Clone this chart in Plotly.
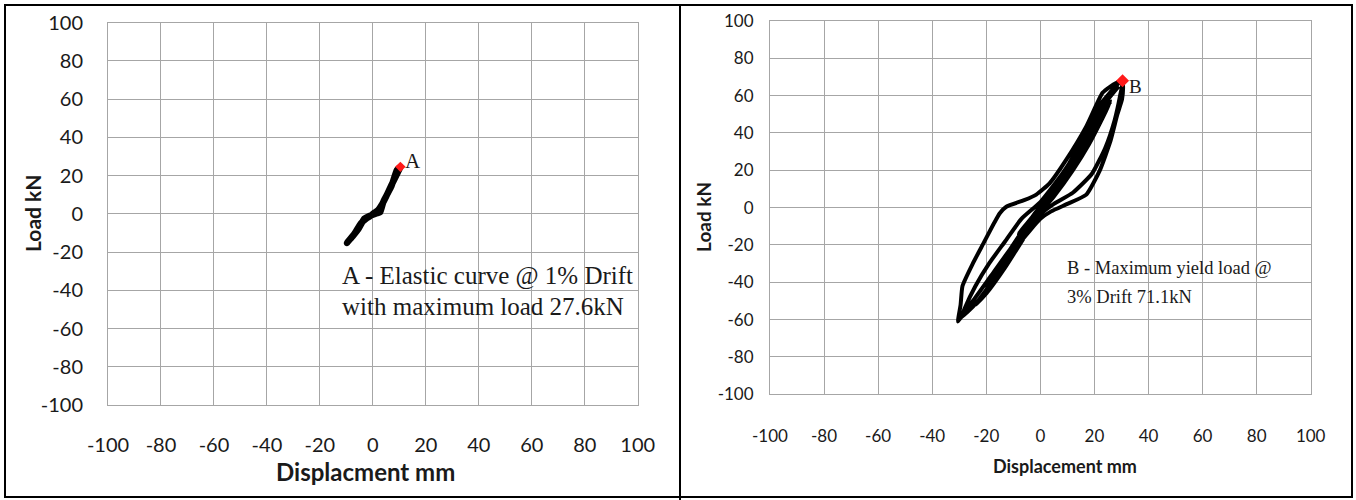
import plotly.graph_objects as go

# ---------------- data ----------------
tick_vals = [-100, -80, -60, -40, -20, 0, 20, 40, 60, 80, 100]
tick_text = ["-100", "-80", "-60", "-40", "-20", "0", "20", "40", "60", "80", "100"]

# Left panel: elastic cycle at 1% drift
disp_a = [-9.8, -7.5, -5.5, -3.2, -1.5, 0.0, 1.5, 2.8, 4.0, 5.5, 7.0, 9.1, 10.4,
          9.0, 7.0, 5.0, 3.5, 2.0, 0.5, -1.0, -2.5, -4.5, -7.0, -9.8]
load_a = [-15.2, -11.5, -8.0, -2.5, -1.2, -0.5, 0.3, 1.0, 6.5, 10.5, 14.5, 22.9, 24.6,
          20.5, 15.0, 9.0, 5.0, 2.0, 0.5, -1.2, -2.5, -5.0, -10.5, -15.2]
point_a = (10.4, 24.6)

# Right panel: cyclic hysteresis loops up to 3% drift
disp_b = [0, 5, 10, 7, 2, -3, -8, -5, 0,
          5, 10, 15, 12, 6, 0, -6, -12, -15, -11, -5, 0,
          6, 12, 20, 16, 10, 4, -2, -8, -15, -20, -16, -9, -3, 2,
          8, 15, 22, 26, 23, 18, 12, 5, -2, -10, -18, -24, -20, -13, -6, 0,
          5, 10, 16, 22, 26, 28.5, 30.4, 30.6, 30.2, 28.5, 26, 22, 17, 10, 4, 0, -7.7, -15, -22.5, -27, -29.5, -30.5,
          -30.2, -29.5, -28.8, -25, -21, -17, -15, -12.6, -6, -1.5, 3.4, 9.6, 17, 23, 26, 28, 30.4,
          29.5, 27.5, 24, 19, 12, 5, -2, -10, -18, -25, -28.5, -29, -28, -24, -19, -13, -7, 0, 8, 16, 24, 29]
load_b = [0, 9, 19, 12, 3, -5, -14, -9, -1,
          9, 19, 30, 22, 10, 0, -11, -24, -30, -22, -10, -1,
          10, 23, 42, 33, 20, 7, -3, -16, -32, -44, -38, -22, -8, 1,
          14, 30, 48, 57, 48, 34, 20, 6, -6, -22, -40, -52, -46, -32, -16, -2,
          10, 22, 38, 55, 62, 66, 68, 64, 58, 50, 36, 20, 7, 2, -2, -6, -19, -35, -49, -56, -59, -61,
          -58, -52, -42, -30, -19, -8, -3, 0.5, 4, 7, 13, 25.7, 43.5, 61.5, 65, 66.7, 68,
          60, 47, 32, 18, 8, 2, -6, -20, -36, -50, -56, -58, -54, -42, -30, -18, -6, 3, 18, 36, 56, 65]
point_b = (30.4, 68.0)

# ---------------- figure ----------------
W, H = 1356, 500
fig = go.Figure()

fig.add_trace(go.Scatter(x=disp_a, y=load_a, mode="lines",
                         line=dict(color="black", width=6.5, shape="spline", smoothing=0.4),
                         xaxis="x", yaxis="y", showlegend=False, hoverinfo="skip"))
fig.add_trace(go.Scatter(x=[point_a[0]], y=[point_a[1]], mode="markers",
                         marker=dict(color="#ff1a1a", size=8, symbol="diamond"),
                         xaxis="x", yaxis="y", showlegend=False))
fig.add_trace(go.Scatter(x=disp_b, y=load_b, mode="lines",
                         line=dict(color="black", width=4, shape="spline", smoothing=0.5),
                         xaxis="x2", yaxis="y2", showlegend=False, hoverinfo="skip"))
fig.add_trace(go.Scatter(x=[point_b[0]], y=[point_b[1]], mode="markers",
                         marker=dict(color="#ff1a1a", size=10, symbol="diamond"),
                         xaxis="x2", yaxis="y2", showlegend=False))

grid = "#a6a6a6"
left_font = dict(family="Lato, Open Sans, sans-serif", size=20, color="#1a1a1a")
right_font = dict(family="Liberation Sans Narrow, Lato, sans-serif", size=17, color="#1a1a1a")

def px_x(p):
    return p / W

def px_y(p):
    return 1 - p / H

common = dict(range=[-100, 100], tickmode="array", tickvals=tick_vals, ticktext=tick_text,
              showgrid=True, gridcolor=grid, gridwidth=1, zeroline=False,
              showline=True, linecolor=grid, linewidth=1, mirror=True, ticks="",
              automargin=False, fixedrange=True)

fig.update_layout(
    template="none",
    width=W, height=H, margin=dict(l=0, r=0, t=0, b=0, pad=0), autosize=False,
    paper_bgcolor="white", plot_bgcolor="white",
    xaxis=dict(domain=[px_x(108), px_x(637.7)], anchor="y", tickfont=left_font,
               ticklabelstandoff=22, **common),
    yaxis=dict(domain=[px_y(405), px_y(22.7)], anchor="x", tickfont=left_font,
               ticklabelstandoff=20, **common),
    xaxis2=dict(domain=[px_x(770), px_x(1310.7)], anchor="y2", tickfont=right_font,
                ticklabelstandoff=26, **common),
    yaxis2=dict(domain=[px_y(394.3), px_y(21)], anchor="x2", tickfont=right_font,
                ticklabelstandoff=12, **common),
)

serif = "Liberation Serif, Times New Roman, serif"
ink = "#1a1a1a"
ann = []
# axis titles
ann.append(dict(text="<b>Displacment mm</b>", x=px_x(366), y=px_y(471), xref="paper", yref="paper",
                xanchor="center", yanchor="middle", showarrow=False,
                font=dict(family="Lato, sans-serif", size=24, color=ink)))
ann.append(dict(text="<b>Load kN</b>", x=px_x(33), y=px_y(213), xref="paper", yref="paper",
                xanchor="center", yanchor="middle", showarrow=False, textangle=-90,
                font=dict(family="Lato, sans-serif", size=21, color=ink)))
ann.append(dict(text="<b>Displacement mm</b>", x=px_x(1065), y=px_y(466), xref="paper", yref="paper",
                xanchor="center", yanchor="middle", showarrow=False,
                font=dict(family="Liberation Sans Narrow, Lato, sans-serif", size=18, color=ink)))
ann.append(dict(text="<b>Load kN</b>", x=px_x(704), y=px_y(217), xref="paper", yref="paper",
                xanchor="center", yanchor="middle", showarrow=False, textangle=-90,
                font=dict(family="Liberation Sans Narrow, Lato, sans-serif", size=19, color=ink)))
# point labels
ann.append(dict(text="A", x=point_a[0] + 1.0, y=point_a[1] + 3.0, xref="x", yref="y",
                xanchor="left", yanchor="middle", showarrow=False, font=dict(family=serif, size=21, color=ink)))
ann.append(dict(text="B", x=point_b[0] + 1.8, y=point_b[1] - 3.0, xref="x2", yref="y2",
                xanchor="left", yanchor="middle", showarrow=False, font=dict(family=serif, size=19, color=ink)))
# notes
ann.append(dict(text="A - Elastic curve @ 1% Drift", x=px_x(340), y=px_y(276), xref="paper", yref="paper",
                xanchor="left", yanchor="middle", showarrow=False, font=dict(family=serif, size=25, color=ink)))
ann.append(dict(text="with maximum load 27.6kN", x=px_x(340), y=px_y(306), xref="paper", yref="paper",
                xanchor="left", yanchor="middle", showarrow=False, font=dict(family=serif, size=25, color=ink)))
ann.append(dict(text="B - Maximum yield load @", x=px_x(1065), y=px_y(268), xref="paper", yref="paper",
                xanchor="left", yanchor="middle", showarrow=False, font=dict(family=serif, size=18.5, color=ink)))
ann.append(dict(text="3% Drift 71.1kN", x=px_x(1065), y=px_y(297), xref="paper", yref="paper",
                xanchor="left", yanchor="middle", showarrow=False, font=dict(family=serif, size=18.5, color=ink)))
fig.update_layout(annotations=ann)

# panel borders
shapes = [
    dict(type="rect", xref="paper", yref="paper", x0=px_x(5), x1=px_x(1352), y0=px_y(497), y1=px_y(5),
         line=dict(color="black", width=2)),
    dict(type="line", xref="paper", yref="paper", x0=px_x(680), x1=px_x(680), y0=px_y(500), y1=px_y(5),
         line=dict(color="black", width=2)),
]
fig.update_layout(shapes=shapes)

fig.write_html("out.html")
